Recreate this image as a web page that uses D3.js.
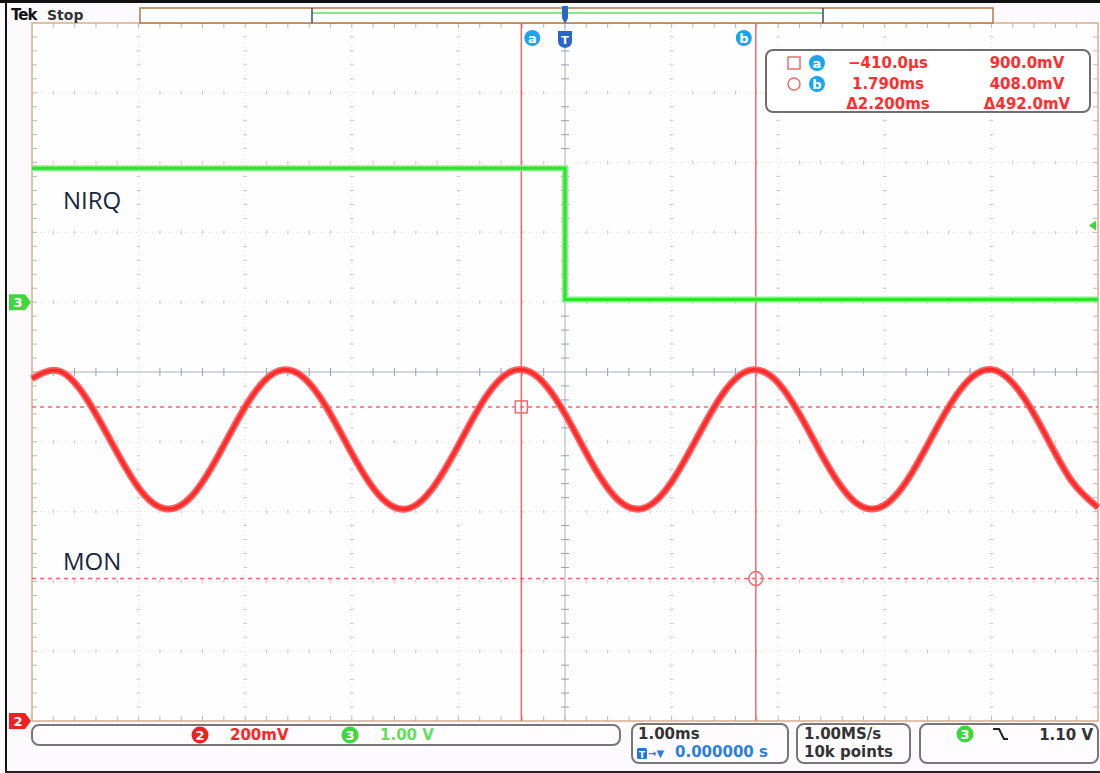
<!DOCTYPE html>
<html>
<head>
<meta charset="utf-8">
<script src="https://cdn.jsdelivr.net/npm/d3@7"></script>
<style>
  body { margin: 0; background: #fdfbfd; }
  svg { display: block; }
  text { font-family: "DejaVu Sans", sans-serif; }
</style>
</head>
<body>
<div id="scope"></div>
<script>
// horizontal: 1.00 ms/div, trigger at 0 ms
const timeDomain = [-5, 5];
const divDomain = [-5, 5];

// channel settings
const ch2Scale = 0.2;   // V/div
const ch2Offset = -5;   // div
const ch3Scale = 1.0;   // V/div
const ch3Offset = 1;    // div
const triggerLevel = 1.10;

// MON (ch2), ms / V
const monTimes = [-5.00, -4.75, -4.50, -4.25, -4.00, -3.75, -3.50, -3.25, -3.00, -2.75,
  -2.50, -2.25, -2.00, -1.75, -1.50, -1.25, -1.00, -0.75, -0.50, -0.25,
  0.00, 0.25, 0.50, 0.75, 1.00, 1.25, 1.50, 1.75, 2.00, 2.25,
  2.50, 2.75, 3.00, 3.25, 3.50, 3.75, 4.00, 4.25, 4.50, 4.75, 5.00];
const monVolts = [0.981, 1.003, 0.929, 0.796, 0.668, 0.608, 0.645, 0.762, 0.900, 0.993,
  0.995, 0.905, 0.767, 0.649, 0.607, 0.664, 0.790, 0.925, 1.002, 0.984,
  0.880, 0.740, 0.633, 0.611, 0.685, 0.818, 0.946, 1.006, 0.969, 0.852,
  0.714, 0.621, 0.619, 0.709, 0.847, 0.965, 1.007, 0.950, 0.824, 0.689, 0.612];

// NIRQ (ch3)
const nirqTimes = [-5, 0, 0, 5];
const nirqVolts = [1.92, 1.92, 0.04, 0.04];

// cursors
const cursorNames = ['a', 'b'];
const cursorTimes = [-0.41, 1.79];
const cursorVolts = [0.900, 0.408];
const readTimes = ['\u2212410.0\u00b5s', '1.790ms', '\u03942.200ms'];
const readVolts = ['900.0mV', '408.0mV', '\u0394492.0mV'];

const W = 1100, H = 773;
const plot = { left: 32, right: 1098, top: 23, bottom: 721 };

const x = d3.scaleLinear().domain(timeDomain).range([plot.left, plot.right]);
const yDiv = d3.scaleLinear().domain(divDomain).range([plot.bottom, plot.top]);
const y2 = v => yDiv(v / ch2Scale + ch2Offset);
const y3 = v => yDiv(v / ch3Scale + ch3Offset);

const svg = d3.select('#scope').append('svg')
  .attr('width', W)
  .attr('height', H);

svg.append('rect').attr('width', W).attr('height', H).attr('fill', '#fcfafc');
svg.append('rect')
  .attr('x', plot.left).attr('y', plot.top)
  .attr('width', plot.right - plot.left).attr('height', plot.bottom - plot.top)
  .attr('fill', '#fefefe');

const majors = d3.range(-4, 5);
const minors = d3.range(-5, 5.001, 0.2).filter(d => Math.abs(d - Math.round(d)) > 0.01);

// grid
const grid = svg.append('g');
majors.filter(d => d !== 0).forEach(d => {
  grid.append('line')
    .attr('x1', x(d)).attr('x2', x(d))
    .attr('y1', plot.top).attr('y2', plot.bottom)
    .attr('stroke', '#e0e0e4').attr('stroke-dasharray', '1,3');
  grid.append('line')
    .attr('x1', plot.left).attr('x2', plot.right)
    .attr('y1', yDiv(d)).attr('y2', yDiv(d))
    .attr('stroke', '#e0e0e4').attr('stroke-dasharray', '1,3');
  grid.selectAll(null).data(minors).enter().append('line')
    .attr('x1', x(d) - 2).attr('x2', x(d) + 2)
    .attr('y1', m => yDiv(m)).attr('y2', m => yDiv(m))
    .attr('stroke', '#cacad0');
  grid.selectAll(null).data(minors).enter().append('line')
    .attr('x1', m => x(m)).attr('x2', m => x(m))
    .attr('y1', yDiv(d) - 2).attr('y2', yDiv(d) + 2)
    .attr('stroke', '#cacad0');
});

// center crosshair
grid.append('line')
  .attr('x1', x(0)).attr('x2', x(0)).attr('y1', plot.top).attr('y2', plot.bottom)
  .attr('stroke', '#a8aec2');
grid.append('line')
  .attr('x1', plot.left).attr('x2', plot.right).attr('y1', yDiv(0)).attr('y2', yDiv(0))
  .attr('stroke', '#a8aec2');
grid.selectAll(null).data(minors).enter().append('line')
  .attr('x1', x(0) - 4).attr('x2', x(0) + 4)
  .attr('y1', m => yDiv(m)).attr('y2', m => yDiv(m))
  .attr('stroke', '#98a0b6');
grid.selectAll(null).data(minors).enter().append('line')
  .attr('x1', m => x(m)).attr('x2', m => x(m))
  .attr('y1', yDiv(0) - 4).attr('y2', yDiv(0) + 4)
  .attr('stroke', '#98a0b6');

// edge ticks
const allTicks = minors.concat(majors);
grid.selectAll(null).data(allTicks).enter().append('line')
  .attr('x1', m => x(m)).attr('x2', m => x(m))
  .attr('y1', plot.bottom - 5).attr('y2', plot.bottom)
  .attr('stroke', '#c0b8b8');
grid.selectAll(null).data(allTicks).enter().append('line')
  .attr('x1', m => x(m)).attr('x2', m => x(m))
  .attr('y1', plot.top).attr('y2', plot.top + 5)
  .attr('stroke', '#c0b8b8');
grid.selectAll(null).data(allTicks).enter().append('line')
  .attr('x1', plot.left).attr('x2', plot.left + 5)
  .attr('y1', m => yDiv(m)).attr('y2', m => yDiv(m))
  .attr('stroke', '#c0b8b8');
grid.selectAll(null).data(allTicks).enter().append('line')
  .attr('x1', plot.right - 5).attr('x2', plot.right)
  .attr('y1', m => yDiv(m)).attr('y2', m => yDiv(m))
  .attr('stroke', '#c0b8b8');

// graticule border
svg.append('rect')
  .attr('x', plot.left).attr('y', plot.top)
  .attr('width', plot.right - plot.left).attr('height', plot.bottom - plot.top)
  .attr('fill', 'none').attr('stroke', '#d6ae8c').attr('stroke-width', 1.5);

// outer frame
svg.append('rect').attr('x', 0).attr('y', 0).attr('width', W).attr('height', 3).attr('fill', '#111');
svg.append('rect').attr('x', 5).attr('y', 0).attr('width', 2).attr('height', H).attr('fill', '#111');
svg.append('rect').attr('x', 5).attr('y', H - 2).attr('width', W - 5).attr('height', 2).attr('fill', '#222');

// record view bar
svg.append('rect')
  .attr('x', 140).attr('y', 8).attr('width', 853).attr('height', 15)
  .attr('fill', '#fff').attr('stroke', '#b47848').attr('stroke-width', 1.5);
svg.append('line').attr('x1', 312).attr('x2', 823).attr('y1', 13).attr('y2', 13)
  .attr('stroke', '#5ee05e').attr('stroke-width', 1.5);
[312, 823].forEach(px => svg.append('line')
  .attr('x1', px).attr('x2', px).attr('y1', 8).attr('y2', 23)
  .attr('stroke', '#3c4a68').attr('stroke-width', 1.5));

svg.append('text').attr('x', 11).attr('y', 20)
  .attr('font-size', 15).attr('font-weight', 'bold').attr('letter-spacing', -1)
  .attr('fill', '#111').text('Tek');
svg.append('text').attr('x', 47).attr('y', 20)
  .attr('font-size', 14).attr('font-weight', 'bold')
  .attr('fill', '#333').text('Stop');

// trigger position markers
const tx = x(0);
svg.append('path')
  .attr('d', `M${tx - 3},6 H${tx + 3} V18 L${tx},24 L${tx - 3},18 Z`)
  .attr('fill', '#2a66c8');
svg.append('path')
  .attr('d', `M${tx - 7},31 H${tx + 7} V41 Q${tx + 7},47 ${tx},48 Q${tx - 7},47 ${tx - 7},41 Z`)
  .attr('fill', '#2a66c8');
svg.append('text').attr('x', tx).attr('y', 44).attr('text-anchor', 'middle')
  .attr('font-size', 11).attr('font-weight', 'bold').attr('fill', '#fff').text('T');

function badge(cx, cy, r, fill, label, color) {
  svg.append('circle').attr('cx', cx).attr('cy', cy).attr('r', r).attr('fill', fill);
  svg.append('text').attr('x', cx).attr('y', cy + 4.5).attr('text-anchor', 'middle')
    .attr('font-size', 13).attr('font-weight', 'bold').attr('fill', color || '#fff').text(label);
}

// cursor lines
const cursorColor = '#f26a6a';
const badgeShift = [11, -12];
cursorNames.forEach((n, i) => {
  const cx = x(cursorTimes[i]);
  svg.append('line')
    .attr('x1', cx).attr('x2', cx).attr('y1', plot.top).attr('y2', plot.bottom)
    .attr('stroke', cursorColor).attr('stroke-width', 1.5);
  svg.append('line')
    .attr('x1', plot.left).attr('x2', plot.right)
    .attr('y1', y2(cursorVolts[i])).attr('y2', y2(cursorVolts[i]))
    .attr('stroke', cursorColor).attr('stroke-width', 1.5).attr('stroke-dasharray', '4,4');
  badge(cx + badgeShift[i], 38, 8, '#1aa6ee', n);
});

// traces
const nirq = nirqTimes.map((t, i) => [t, nirqVolts[i]]);
const nirqLine = d3.line().x(d => x(d[0])).y(d => y3(d[1])).curve(d3.curveLinear);
svg.append('path').attr('d', nirqLine(nirq))
  .attr('fill', 'none').attr('stroke', '#86f286').attr('stroke-width', 6);
svg.append('path').attr('d', nirqLine(nirq))
  .attr('fill', 'none').attr('stroke', '#2ee22e').attr('stroke-width', 3);
svg.append('line')
  .attr('x1', x(0)).attr('x2', x(0)).attr('y1', y3(nirqVolts[1])).attr('y2', y3(nirqVolts[2]))
  .attr('stroke', '#2ee22e').attr('stroke-width', 2);

const mon = monTimes.map((t, i) => [t, monVolts[i]]);
const monLine = d3.line().x(d => x(d[0])).y(d => y2(d[1])).curve(d3.curveNatural);
svg.append('path').attr('d', monLine(mon))
  .attr('fill', 'none').attr('stroke', '#ff6262').attr('stroke-width', 7);
svg.append('path').attr('d', monLine(mon))
  .attr('fill', 'none').attr('stroke', '#ff2a2a').attr('stroke-width', 3.5);

// cursor point markers
svg.append('rect')
  .attr('x', x(cursorTimes[0]) - 6).attr('y', y2(cursorVolts[0]) - 6)
  .attr('width', 12).attr('height', 12)
  .attr('fill', 'none').attr('stroke', cursorColor).attr('stroke-width', 1.5);
svg.append('circle')
  .attr('cx', x(cursorTimes[1])).attr('cy', y2(cursorVolts[1])).attr('r', 7)
  .attr('fill', 'none').attr('stroke', cursorColor).attr('stroke-width', 1.5);

// channel labels
svg.append('text').attr('x', 63).attr('y', 209)
  .style('font-family', '"Open Sans", sans-serif').attr('font-size', 24)
  .attr('fill', '#18283f').text('NIRQ');
svg.append('text').attr('x', 63).attr('y', 570)
  .style('font-family', '"Open Sans", sans-serif').attr('font-size', 24)
  .attr('fill', '#18283f').text('MON');

// ground / level markers
function chMarker(yy, fill, label) {
  svg.append('path')
    .attr('d', `M9,${yy - 8} H25 L31,${yy} L25,${yy + 8} H9 Z`)
    .attr('fill', fill);
  svg.append('text').attr('x', 18).attr('y', yy + 5).attr('text-anchor', 'middle')
    .attr('font-size', 13).attr('font-weight', 'bold').attr('fill', '#fff').text(label);
}
chMarker(y3(0), '#3ed83e', '3');
chMarker(y2(0), '#ee2020', '2');

const ty = y3(triggerLevel);
svg.append('path')
  .attr('d', `M1089,${ty} L1096,${ty - 5} L1096,${ty + 5} Z`)
  .attr('fill', '#3ed83e');

// cursor readout
svg.append('rect')
  .attr('x', 766).attr('y', 50).attr('width', 324).attr('height', 62).attr('rx', 7)
  .attr('fill', '#fff').attr('stroke', '#6e6e6e').attr('stroke-width', 2);
svg.append('rect').attr('x', 788).attr('y', 57).attr('width', 12).attr('height', 12)
  .attr('fill', 'none').attr('stroke', cursorColor).attr('stroke-width', 1.5);
svg.append('circle').attr('cx', 794).attr('cy', 84).attr('r', 6)
  .attr('fill', 'none').attr('stroke', cursorColor).attr('stroke-width', 1.5);
badge(817, 63, 8, '#1aa6ee', 'a');
badge(817, 84, 8, '#1aa6ee', 'b');
readTimes.forEach((s, i) => {
  svg.append('text').attr('x', 888).attr('y', 68 + i * 20.5).attr('text-anchor', 'middle')
    .attr('font-size', 15).attr('font-weight', 'bold').attr('fill', '#ff2e2e').text(s);
});
readVolts.forEach((s, i) => {
  svg.append('text').attr('x', 1027).attr('y', 68 + i * 20.5).attr('text-anchor', 'middle')
    .attr('font-size', 15).attr('font-weight', 'bold').attr('fill', '#ff2e2e').text(s);
});

// bottom status bar
function box(x0, x1, y0, y1) {
  svg.append('rect')
    .attr('x', x0).attr('y', y0).attr('width', x1 - x0).attr('height', y1 - y0).attr('rx', 7)
    .attr('fill', '#fefcfe').attr('stroke', '#777').attr('stroke-width', 2);
}
box(32, 620, 725, 745);
box(632, 788, 724, 763);
box(797, 910, 724, 763);
box(920, 1098, 724, 763);

function txt(x0, y0, s, color, size, anchor) {
  svg.append('text').attr('x', x0).attr('y', y0).attr('text-anchor', anchor || 'start')
    .attr('font-size', size || 15).attr('font-weight', 'bold').attr('fill', color).text(s);
}
badge(200, 735, 8.5, '#ee2020', '2');
txt(230, 740, '200mV', '#ff2424');
badge(350, 735, 8.5, '#3ed83e', '3');
txt(380, 740, '1.00 V', '#5ee25e');

txt(638, 739, '1.00ms', '#333');
svg.append('rect').attr('x', 637).attr('y', 748).attr('width', 10).attr('height', 11).attr('rx', 1.5)
  .attr('fill', '#2a72d8');
svg.append('text').attr('x', 642).attr('y', 757.5).attr('text-anchor', 'middle')
  .attr('font-size', 9).attr('font-weight', 'bold').attr('fill', '#fff').text('T');
txt(648, 757, '\u2192\u25BC', '#2a7ee2', 10);
txt(675, 757, '0.000000 s', '#2a7ee2');

txt(804, 739, '1.00MS/s', '#333');
txt(804, 757, '10k points', '#333');

badge(965, 734, 8.5, '#3ed83e', '3');
svg.append('path').attr('d', 'M993,729 H999 L1004,739 H1008')
  .attr('fill', 'none').attr('stroke', '#222').attr('stroke-width', 2);
txt(1093, 740, '1.10 V', '#333', 15, 'end');
</script>
</body>
</html>
